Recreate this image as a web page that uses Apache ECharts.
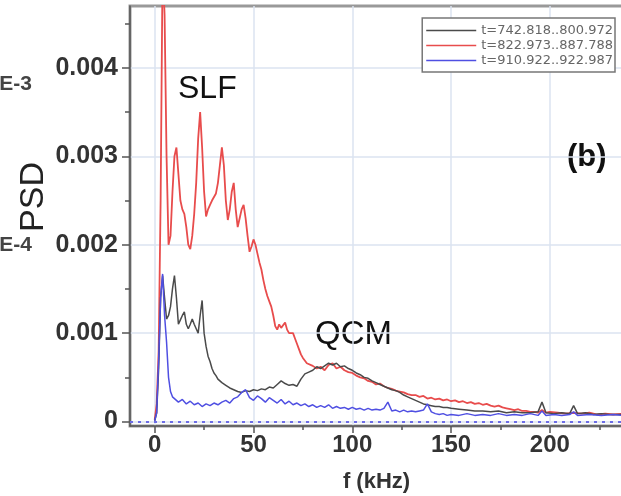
<!DOCTYPE html>
<html>
<head>
<meta charset="utf-8">
<script src="https://cdn.jsdelivr.net/npm/echarts@6/dist/echarts.min.js"></script>
<style>html,body{margin:0;padding:0;background:#fff;}#c{width:621px;height:496px;}</style>
</head>
<body>
<div id="c"></div>
<script>
// ---- data (f in kHz, PSD) ----
const seriesNames = ['t=742.818..800.972', 't=822.973..887.788', 't=910.922..922.987'];
const xTicks = [0, 50, 100, 150, 200];
const xMinorTicks = [25, 75, 125, 175, 225];
const yTicks = [0, 0.001, 0.002, 0.003, 0.004];
const yMinorTicks = [0.0005, 0.0015, 0.0025, 0.0035, 0.0045];

const fBlack = [0,1,2,3,4,5,6,7,8,9,10,11,12,13,14,15,16,17,18,19,20,21,22,23,24,25,26,27,28,29,30,31,32,34,36,38,40,42,44,46,48,50,52,54,56,58,60,62,64,66,68,70,72,74,76,78,80,82,84,86,88,90,92,94,96,98,100,102,104,106,108,110,112,114,116,118,120,122,124,126,128,130,132,134,136,138,140,142,144,146,148,150,154,158,162,166,170,174,178,182,186,190,194,196,198,202,206,210,212,214,218,222,226,230,237];
const psdBlack = [0.00001,0.0001,0.0006,0.0014,0.00165,0.0014,0.00116,0.0012,0.0013,0.0015,0.00165,0.0014,0.0011,0.00115,0.0012,0.00124,0.0011,0.00105,0.0011,0.00116,0.0011,0.00105,0.001,0.0012,0.00137,0.001,0.00085,0.00074,0.00068,0.0006,0.00055,0.00052,0.00048,0.00044,0.00041,0.00038,0.00036,0.00034,0.00033,0.00035,0.00034,0.00036,0.00035,0.00037,0.00036,0.00039,0.00038,0.00042,0.00046,0.00043,0.00041,0.00042,0.0004,0.00048,0.00054,0.00056,0.00058,0.00062,0.0006,0.00063,0.00066,0.00064,0.00066,0.00062,0.00063,0.0006,0.00058,0.00055,0.00053,0.0005,0.00049,0.00046,0.00044,0.00042,0.0004,0.00038,0.00036,0.00035,0.00033,0.0003,0.00028,0.00026,0.00024,0.00022,0.0002,0.00019,0.00018,0.00017,0.00017,0.00016,0.00016,0.00015,0.00014,0.00013,0.00012,0.00012,0.00011,0.00012,0.0001,0.00011,0.0001,0.0001,0.00011,0.00022,0.0001,0.00009,0.0001,0.00009,0.00018,0.00009,0.0001,0.00008,0.00009,0.00008,0.00008];

const fRed = [0,1,2,3,4,5,6,7,8,9,10,11,12,13,14,15,16,17,18,19,20,21,22,23,24,25,26,27,28,29,30,31,32,33,34,35,36,37,38,39,40,41,42,43,44,45,46,47,48,49,50,51,52,53,54,55,56,57,58,59,60,61,62,63,64,65,66,67,68,69,70,71,72,73,74,75,76,77,78,80,82,84,86,88,90,92,94,96,98,100,102,104,106,108,110,112,114,116,118,120,122,124,126,128,130,132,134,136,138,140,142,144,146,148,150,152,154,156,158,160,162,164,166,168,170,172,174,176,178,180,182,184,186,188,190,192,194,196,198,200,204,208,212,216,220,224,228,232,237];
const psdRed = [0.00002,0.0002,0.0008,0.0025,0.0052,0.0046,0.003,0.002,0.0021,0.0026,0.003,0.0031,0.0028,0.0025,0.0024,0.00235,0.0022,0.002,0.00195,0.0021,0.00235,0.0027,0.0032,0.0035,0.0031,0.0026,0.00232,0.0024,0.00245,0.0025,0.00248,0.00258,0.0027,0.0029,0.0031,0.0029,0.0025,0.00228,0.0024,0.0026,0.0027,0.0024,0.0022,0.0023,0.0024,0.00245,0.0023,0.0021,0.00192,0.00198,0.00206,0.002,0.0019,0.0018,0.00172,0.0016,0.0015,0.00142,0.00136,0.0013,0.0012,0.00108,0.00104,0.0011,0.00106,0.00108,0.00112,0.00104,0.001,0.00098,0.001,0.00094,0.00088,0.00082,0.00076,0.00072,0.0007,0.00066,0.00068,0.00063,0.0006,0.00062,0.00058,0.00064,0.00066,0.0006,0.00062,0.00058,0.00056,0.00055,0.00052,0.0005,0.00049,0.00046,0.00045,0.00042,0.00043,0.0004,0.00038,0.00037,0.00035,0.00034,0.00033,0.00031,0.0003,0.0003,0.00028,0.00029,0.00026,0.00027,0.00025,0.00026,0.00024,0.00025,0.00023,0.00024,0.00022,0.00023,0.00021,0.00022,0.0002,0.00021,0.00019,0.0002,0.00018,0.00017,0.00018,0.00016,0.00015,0.00014,0.00013,0.00014,0.00012,0.00012,0.00011,0.00011,0.0001,0.00013,0.0001,0.00011,0.0001,0.00009,0.0001,0.00009,0.0001,0.00008,0.00009,0.00008,0.00009];

const fBlue = [0,1,2,3,4,5,6,7,8,9,10,12,14,16,18,20,22,24,26,28,30,32,34,36,38,40,42,44,46,48,50,52,54,56,58,60,62,64,66,68,70,72,74,76,78,80,82,84,86,88,90,92,94,96,98,100,102,104,106,108,110,112,114,116,118,120,122,124,126,128,130,132,134,136,138,140,142,144,146,148,150,154,158,162,166,170,174,178,182,186,190,194,196,198,202,206,210,212,214,220,226,232,237];
const psdBlue = [0.00001,0.0001,0.0007,0.0014,0.00167,0.0012,0.0009,0.0005,0.00034,0.00028,0.00026,0.00022,0.00025,0.0002,0.00023,0.00019,0.00021,0.00017,0.0002,0.00018,0.00021,0.00019,0.00022,0.00024,0.00021,0.00026,0.00028,0.00033,0.00036,0.00027,0.00024,0.00029,0.00026,0.00022,0.00027,0.00024,0.00021,0.00025,0.0002,0.00023,0.00019,0.00021,0.00018,0.0002,0.00017,0.00019,0.00016,0.00018,0.00016,0.00019,0.00015,0.00017,0.00015,0.00016,0.00014,0.00016,0.00014,0.00015,0.00013,0.00015,0.00013,0.00014,0.00013,0.00015,0.00022,0.00012,0.00013,0.00011,0.00013,0.00011,0.00012,0.00011,0.00012,0.00013,0.0002,0.00011,0.00009,0.00008,0.00009,0.00007,0.00008,0.00007,0.00009,0.00007,0.00008,0.00007,0.00009,0.00007,0.00008,0.00007,0.00009,0.00007,0.00012,0.00007,0.00008,0.00007,0.00008,0.00011,0.00007,0.00008,0.00007,0.00008,0.00007];

const zip = (f, v) => f.map((x, i) => [x, v[i]]);

const chart = echarts.init(document.getElementById('c'), null, {renderer: 'canvas'});
const FONT = 'Liberation Sans, Arial, sans-serif';
const gridColor = '#dbe3f0';
const axisColor = '#555';

chart.setOption({
  animation: false,
  backgroundColor: '#fff',
  grid: {left: 130, right: -2, top: 6, bottom: 70, show: true, borderColor: '#999', borderWidth: 3,
         backgroundColor: 'transparent', containLabel: false, outerBoundsMode: 'none'},
  legend: {
    orient: 'vertical', right: 6, top: 18, data: seriesNames,
    icon: 'rect', itemWidth: 50, itemHeight: 1.5, itemGap: 2, itemTextGap: 5,
    textStyle: {fontSize: 13, lineHeight: 13, color: '#666', fontFamily: 'DejaVu Sans, sans-serif'},
    borderColor: '#777', borderWidth: 1.5, padding: [6, 2, 5, 4], backgroundColor: '#fff', borderRadius: 0
  },
  xAxis: [{
    type: 'value', min: -12.5, max: 237, position: 'bottom',
    name: 'f (kHz)', nameLocation: 'middle', nameGap: 45,
    nameTextStyle: {fontSize: 22, fontWeight: 'bold', color: '#333', fontFamily: FONT},
    axisLine: {show: true, onZero: false, lineStyle: {color: axisColor, width: 1.5}},
    axisTick: {show: true, customValues: xTicks, length: 7, lineStyle: {color: axisColor, width: 1.5}},
    axisLabel: {customValues: xTicks, margin: 7, fontSize: 24, fontWeight: 'bold', color: '#333', fontFamily: FONT},
    splitLine: {show: true, lineStyle: {color: gridColor, width: 1.5}}
  }, {
    type: 'value', min: -12.5, max: 237, position: 'bottom', gridIndex: 0,
    axisLine: {show: false, onZero: false},
    axisTick: {show: true, customValues: xMinorTicks, length: 4, lineStyle: {color: axisColor, width: 1.5}},
    axisLabel: {show: false}, splitLine: {show: false}
  }],
  yAxis: [{
    type: 'value', min: -0.00005, max: 0.0047, position: 'left',
    axisLine: {show: true, onZero: false, lineStyle: {color: axisColor, width: 1.5}},
    axisTick: {show: true, customValues: yTicks, length: 8, lineStyle: {color: axisColor, width: 1.5}},
    axisLabel: {customValues: yTicks, margin: 12, fontSize: 25, fontWeight: 'bold', color: '#333', fontFamily: FONT,
      formatter: v => (v === 0 ? '0' : v.toFixed(3))},
    splitLine: {show: true, lineStyle: {color: gridColor, width: 1.5}}
  }, {
    type: 'value', min: -0.00005, max: 0.0047, position: 'left', gridIndex: 0,
    axisLine: {show: false, onZero: false},
    axisTick: {show: true, customValues: yMinorTicks, length: 5, lineStyle: {color: axisColor, width: 1.5}},
    axisLabel: {show: false}, splitLine: {show: false}
  }],
  series: [
    {name: seriesNames[0], type: 'line', symbol: 'none', data: zip(fBlack, psdBlack),
     lineStyle: {color: '#4a4a4a', width: 1.5}, itemStyle: {color: '#4a4a4a'}, z: 3},
    {name: seriesNames[1], type: 'line', symbol: 'none', data: zip(fRed, psdRed),
     lineStyle: {color: '#e84c4c', width: 1.8}, itemStyle: {color: '#e84c4c'}, z: 2},
    {name: seriesNames[2], type: 'line', symbol: 'none', data: zip(fBlue, psdBlue),
     lineStyle: {color: '#4f4fe2', width: 1.5}, itemStyle: {color: '#4f4fe2'}, z: 4,
     markLine: {silent: true, symbol: ['none', 'none'], label: {show: false},
       lineStyle: {color: '#6c6ce6', type: [3, 5], width: 2},
       data: [{yAxis: 0}]}}
  ],
  graphic: [
    {type: 'text', x: 34, y: 197, rotation: Math.PI / 2,
     style: {text: 'PSD', font: '34px Liberation Sans, Arial, sans-serif', fill: '#222', align: 'center', verticalAlign: 'middle'}},
    {type: 'text', left: 178, top: 73, style: {text: 'SLF', font: '32px Liberation Sans, Arial, sans-serif', fill: '#111'}},
    {type: 'text', left: 315, top: 318, style: {text: 'QCM', font: '33px Liberation Sans, Arial, sans-serif', fill: '#111'}},
    {type: 'text', left: 567, top: 142, style: {text: '(b)', font: 'bold 31px Liberation Sans, Arial, sans-serif', fill: '#111'}},
    {type: 'text', right: 589, top: 74, style: {text: 'E-3', font: 'bold 21px Liberation Sans, Arial, sans-serif', fill: '#444'}},
    {type: 'text', right: 589, top: 235, style: {text: 'E-4', font: 'bold 21px Liberation Sans, Arial, sans-serif', fill: '#444'}}
  ]
});
</script>
</body>
</html>
